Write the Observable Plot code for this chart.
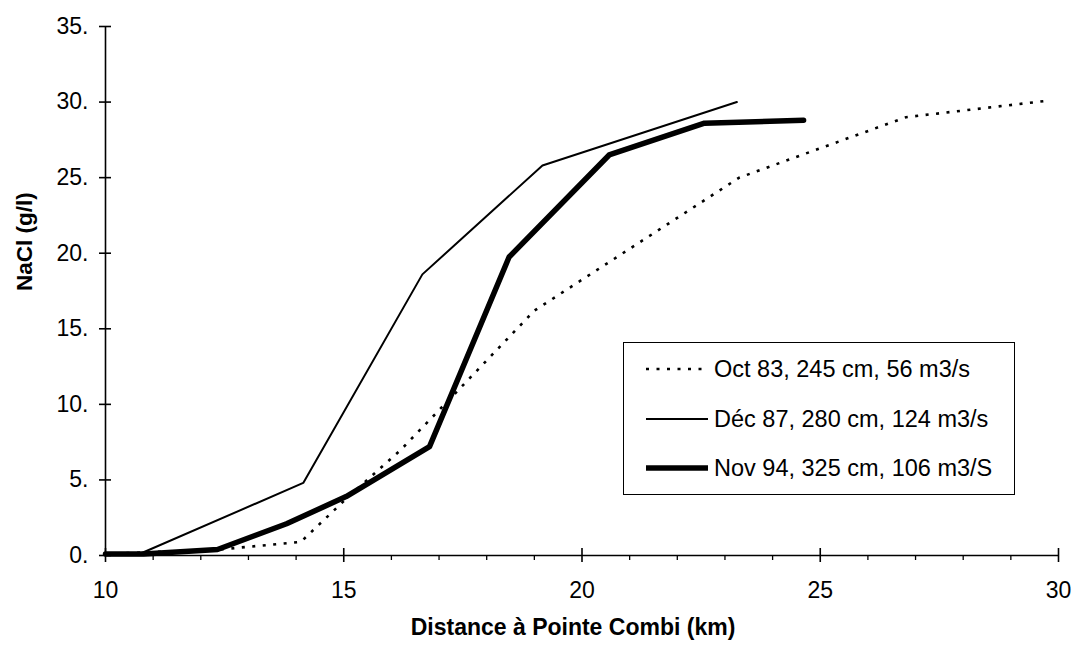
<!DOCTYPE html>
<html>
<head>
<meta charset="utf-8">
<script src="https://cdn.jsdelivr.net/npm/d3@7"></script>
<script src="https://cdn.jsdelivr.net/npm/@observablehq/plot@0.6"></script>
<style>
  html, body { margin: 0; padding: 0; background: #fff; }
  #wrap { position: relative; width: 1072px; height: 645px; font-family: "Liberation Sans", Arial, sans-serif; }
  #legend { position: absolute; left: 623px; top: 342px; width: 390px; height: 151px; border: 1.5px solid #000; background: #fff; }
  .row { position: absolute; left: 0; height: 30px; display: flex; align-items: center; }
  .row svg { margin-left: 22px; }
  .row span { margin-left: 6px; font-size: 23.5px; color: #000; white-space: nowrap; }
</style>
</head>
<body>
<div id="wrap"></div>
<script>
// ---- data ----
const octX = [10, 12.4, 14.1, 15.0, 16.2, 17.3, 19.0, 23.3, 26.8, 29.8];
const octY = [0.1, 0.4, 0.9, 3.6, 7.0, 10.6, 16.2, 25.0, 29.0, 30.1];

const decX = [10, 10.75, 14.15, 16.65, 19.17, 23.25];
const decY = [0.1, 0.15, 4.8, 18.6, 25.8, 30.0];

const novX = [10, 10.8, 12.35, 13.8, 15.05, 16.8, 18.47, 20.57, 22.57, 24.65];
const novY = [0.1, 0.1, 0.4, 2.1, 3.9, 7.2, 19.75, 26.5, 28.6, 28.8];

const seriesNames = ["Oct 83, 245 cm, 56 m3/s", "Déc 87, 280 cm, 124 m3/s", "Nov 94, 325 cm, 106 m3/S"];
const yTicks = [0, 5, 10, 15, 20, 25, 30, 35];
const xTicks = [10, 15, 20, 25, 30];
const xMinorTicks = [11, 12, 13, 14, 16, 17, 18, 19, 21, 22, 23, 24, 26, 27, 28, 29];
const xTitle = "Distance à Pointe Combi (km)";
const yTitle = "NaCl (g/l)";

const toRows = (xs, ys) => xs.map((x, i) => ({x, y: ys[i]}));
const oct = toRows(octX, octY);
const dec = toRows(decX, decY);
const nov = toRows(novX, novY);

const styles = [
  {strokeWidth: 2.6, strokeDasharray: "3,7.5"},
  {strokeWidth: 2, strokeDasharray: null},
  {strokeWidth: 5.5, strokeDasharray: null}
];

const chart = Plot.plot({
  width: 1072,
  height: 645,
  marginLeft: 105,
  marginRight: 14,
  marginTop: 26,
  marginBottom: 90,
  style: {fontFamily: "'Liberation Sans', Arial, sans-serif", background: "#fff", color: "#000"},
  x: {domain: [xTicks[0], xTicks[xTicks.length - 1]], label: null},
  y: {domain: [yTicks[0], yTicks[yTicks.length - 1]], label: null},
  marks: [
    Plot.ruleX([xTicks[0]], {stroke: "#000", strokeWidth: 1.6}),
    Plot.ruleY([yTicks[0]], {stroke: "#000", strokeWidth: 1.6}),
    // y axis ticks (crossing) + labels
    Plot.axisY({ticks: yTicks, tickSize: 6, tickPadding: 11, strokeWidth: 1.6, fontSize: 23, tickFormat: d => d + ".", label: null}),
    Plot.axisY({ticks: yTicks, tickSize: 6, dx: 6, strokeWidth: 1.6, tickFormat: () => "", label: null}),
    // x axis ticks (major crossing, minor below) + labels
    Plot.axisX({ticks: xTicks, tickSize: 7, tickPadding: 19, strokeWidth: 1.6, fontSize: 23, tickFormat: d => String(d), label: null}),
    Plot.axisX({ticks: xTicks, tickSize: 7, dy: -7, strokeWidth: 1.6, tickFormat: () => "", label: null}),
    Plot.axisX({ticks: xMinorTicks, tickSize: 5, strokeWidth: 1.3, tickFormat: () => "", label: null}),
    // series
    Plot.line(oct, {x: "x", y: "y", stroke: "#000", ...styles[0], strokeLinecap: "butt"}),
    Plot.line(dec, {x: "x", y: "y", stroke: "#000", ...styles[1], strokeLinejoin: "miter"}),
    Plot.line(nov, {x: "x", y: "y", stroke: "#000", ...styles[2], strokeLinejoin: "round"}),
    // axis titles
    Plot.text([xTitle], {frameAnchor: "bottom", dy: 79, dx: -9, fontSize: 23, fontWeight: "bold", fill: "#000"}),
    Plot.text([yTitle], {frameAnchor: "left", dx: -81, rotate: -90, fontSize: 22.5, fontWeight: "bold", fill: "#000"})
  ]
});

const wrap = document.getElementById("wrap");
wrap.appendChild(chart);

// legend
const legend = document.createElement("div");
legend.id = "legend";
const rowTops = [11, 61, 110];
seriesNames.forEach((name, i) => {
  const row = document.createElement("div");
  row.className = "row";
  row.style.top = rowTops[i] + "px";
  const s = styles[i];
  const dash = s.strokeDasharray ? ` stroke-dasharray="${s.strokeDasharray}"` : "";
  row.innerHTML = `<svg width="62" height="12"><line x1="0" y1="6" x2="62" y2="6" stroke="#000" stroke-width="${s.strokeWidth}"${dash}/></svg><span>${name}</span>`;
  legend.appendChild(row);
});
wrap.appendChild(legend);
</script>
</body>
</html>
